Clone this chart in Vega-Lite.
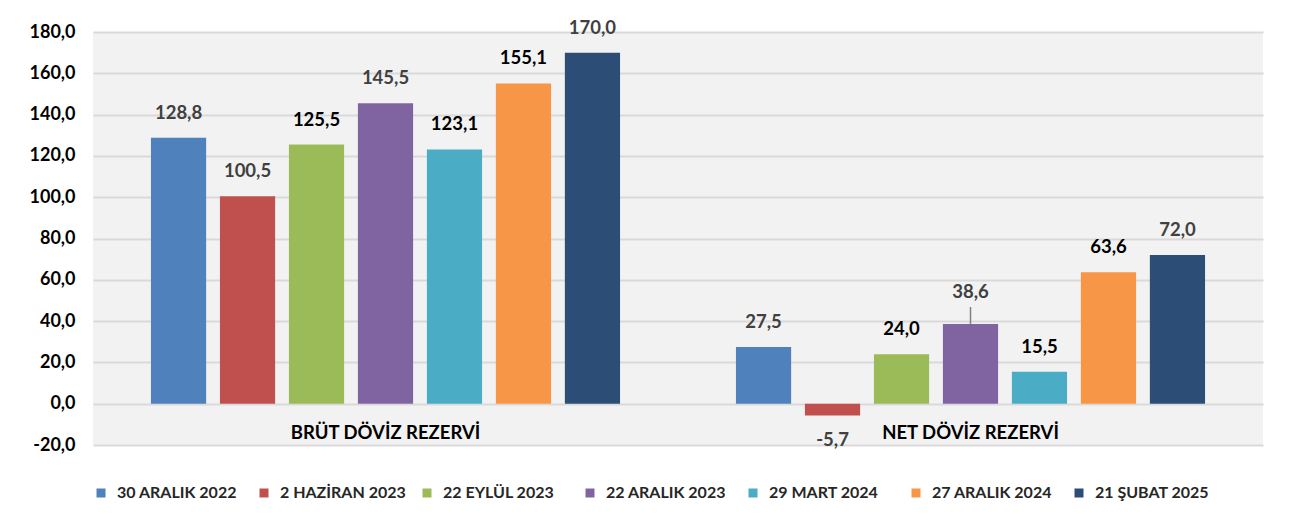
{
  "$schema": "https://vega.github.io/schema/vega-lite/v6.json",
  "width": 1170,
  "height": 413,
  "autosize": {"type": "none"},
  "padding": {"left": 93, "top": 32, "right": 34, "bottom": 80},
  "background": "#ffffff",
  "config": {
    "locale": {"number": {"decimal": ",", "thousands": ".", "grouping": [3], "currency": ["", ""], "minus": "-"}},
    "view": {"fill": "#f2f2f2", "stroke": null},
    "font": "Lato"
  },
  "data": {
    "values": [
      {"grup": "BRÜT DÖVİZ REZERVİ", "seri": "30 ARALIK 2022", "deger": 128.8},
      {"grup": "BRÜT DÖVİZ REZERVİ", "seri": "2 HAZİRAN 2023", "deger": 100.5},
      {"grup": "BRÜT DÖVİZ REZERVİ", "seri": "22 EYLÜL 2023", "deger": 125.5},
      {"grup": "BRÜT DÖVİZ REZERVİ", "seri": "22 ARALIK 2023", "deger": 145.5},
      {"grup": "BRÜT DÖVİZ REZERVİ", "seri": "29 MART 2024", "deger": 123.1},
      {"grup": "BRÜT DÖVİZ REZERVİ", "seri": "27 ARALIK 2024", "deger": 155.1},
      {"grup": "BRÜT DÖVİZ REZERVİ", "seri": "21 ŞUBAT 2025", "deger": 170.0},
      {"grup": "NET DÖVİZ REZERVİ", "seri": "30 ARALIK 2022", "deger": 27.5},
      {"grup": "NET DÖVİZ REZERVİ", "seri": "2 HAZİRAN 2023", "deger": -5.7},
      {"grup": "NET DÖVİZ REZERVİ", "seri": "22 EYLÜL 2023", "deger": 24.0},
      {"grup": "NET DÖVİZ REZERVİ", "seri": "22 ARALIK 2023", "deger": 38.6},
      {"grup": "NET DÖVİZ REZERVİ", "seri": "29 MART 2024", "deger": 15.5},
      {"grup": "NET DÖVİZ REZERVİ", "seri": "27 ARALIK 2024", "deger": 63.6},
      {"grup": "NET DÖVİZ REZERVİ", "seri": "21 ŞUBAT 2025", "deger": 72.0}
    ]
  },
  "encoding": {
    "x": {
      "field": "grup", "type": "nominal", "sort": null,
      "scale": {"paddingInner": 0, "paddingOuter": 0},
      "axis": {"title": null, "labelAngle": 0, "domain": false, "ticks": false,
               "labelPadding": -13, "labelBaseline": "middle", "labelLimit": 500,
               "labelFont": "Lato", "labelFontWeight": "bold", "labelFontSize": 18.5, "labelColor": "#000000"}
    },
    "xOffset": {
      "field": "seri", "type": "nominal", "sort": null,
      "scale": {"paddingInner": 0.2, "paddingOuter": 0.84}
    },
    "y": {
      "field": "deger", "type": "quantitative",
      "scale": {"domain": [-20, 180], "nice": false, "zero": false},
      "axis": {"title": null, "values": [-20, 0, 20, 40, 60, 80, 100, 120, 140, 160, 180],
               "format": ".1f", "domain": false, "ticks": false, "labelPadding": 18,
               "gridColor": "#d9d9d9", "gridWidth": 2,
               "labelFont": "Lato", "labelFontWeight": "bold", "labelFontSize": 18, "labelColor": "#000000"}
    }
  },
  "layer": [
    {
      "mark": {"type": "bar"},
      "encoding": {
        "color": {
          "field": "seri", "type": "nominal", "sort": null,
          "scale": {
            "domain": ["30 ARALIK 2022", "2 HAZİRAN 2023", "22 EYLÜL 2023", "22 ARALIK 2023", "29 MART 2024", "27 ARALIK 2024", "21 ŞUBAT 2025"],
            "range": ["#4f81bd", "#c0504d", "#9bbb59", "#8064a2", "#4bacc6", "#f79646", "#2c4d75"]
          },
          "legend": {
            "title": null, "orient": "bottom", "direction": "horizontal", "columns": 7,
            "gridAlign": "all", "columnPadding": 13, "offset": 40,
            "symbolType": "square", "symbolSize": 81, "symbolStrokeWidth": 0,
            "labelFont": "Lato", "labelFontWeight": "bold", "labelFontSize": 16, "labelColor": "#262626",
            "labelOffset": 8, "labelLimit": 300
          }
        }
      }
    },
    {
      "transform": [{"filter": "datum.deger >= 0 && !(datum.seri == '22 ARALIK 2023' && datum.grup == 'NET DÖVİZ REZERVİ')"}],
      "mark": {"type": "text", "dy": -25, "baseline": "middle", "font": "Lato", "fontWeight": "bold", "fontSize": 18.5},
      "encoding": {
        "text": {"field": "deger", "type": "quantitative", "format": ".1f"},
        "color": {"condition": {"test": "indexof(['22 EYLÜL 2023','29 MART 2024','27 ARALIK 2024'], datum.seri) >= 0", "value": "#000000"}, "value": "#404040"}
      }
    },
    {
      "transform": [{"filter": "datum.deger < 0"}],
      "mark": {"type": "text", "dy": 25, "baseline": "middle", "font": "Lato", "fontWeight": "bold", "fontSize": 18.5, "color": "#404040"},
      "encoding": {
        "text": {"field": "deger", "type": "quantitative", "format": ".1f"}
      }
    },
    {
      "transform": [{"filter": "datum.seri == '22 ARALIK 2023' && datum.grup == 'NET DÖVİZ REZERVİ'"}],
      "mark": {"type": "text", "dy": -32, "baseline": "middle", "font": "Lato", "fontWeight": "bold", "fontSize": 18.5, "color": "#404040"},
      "encoding": {
        "text": {"field": "deger", "type": "quantitative", "format": ".1f"}
      }
    },
    {
      "transform": [{"filter": "datum.seri == '22 ARALIK 2023' && datum.grup == 'NET DÖVİZ REZERVİ'"}],
      "mark": {"type": "rule", "color": "#808080", "strokeWidth": 1.5, "y2Offset": -17},
      "encoding": {
        "y2": {"field": "deger"}
      }
    }
  ]
}
